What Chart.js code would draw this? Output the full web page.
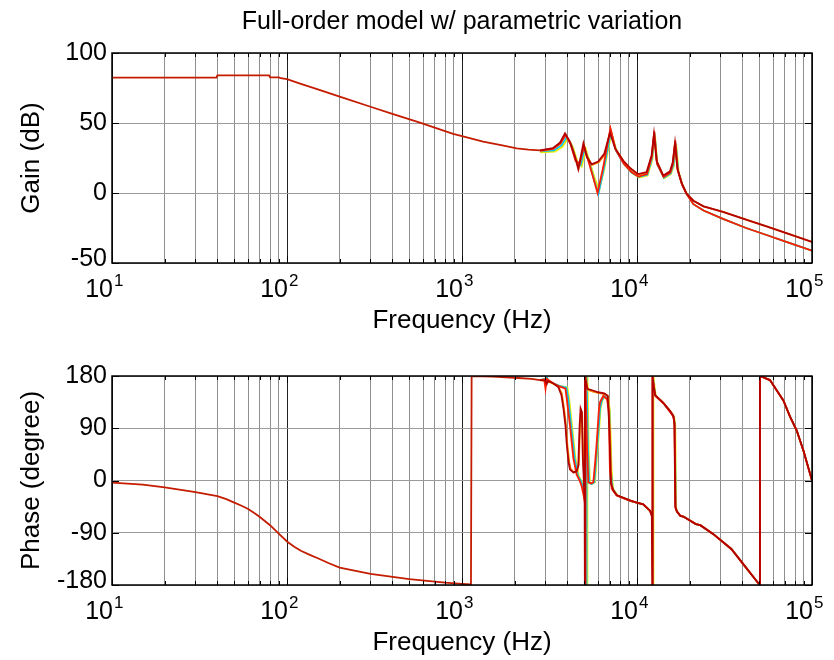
<!DOCTYPE html>
<html>
<head>
<meta charset="utf-8">
<script src="https://cdn.jsdelivr.net/npm/chart.js@4.4.1/dist/chart.umd.min.js"></script>
<style>
  html, body { margin: 0; padding: 0; background: #fff; }
  #wrap { position: relative; width: 834px; height: 660px; }
  canvas { position: absolute; left: 0; }
  #gain { top: 0; }
  #phase { top: 345px; }
</style>
</head>
<body>
<div id="wrap">
  <canvas id="gain" width="834" height="345"></canvas>
  <canvas id="phase" width="834" height="315"></canvas>
</div>
<script>
// ---- axis ticks ----
const decades = [10, 100, 1000, 10000, 100000];
const gainTicks = [-50, 0, 50, 100];
const phaseTicks = [-180, -90, 0, 90, 180];

// ---- gain (dB), common low-frequency part ----
const gainLowFreq = [10, 39.5, 40, 79, 80, 90, 92, 100, 120, 150, 200, 300, 400, 575, 890, 1000, 1320, 1700, 2055, 2400, 2790];
const gainLow = [82.4, 82.4, 84.0, 84.0, 82.6, 82.6, 82.0, 81.3, 78.0, 74.0, 68.8, 61.6, 56.5, 50.2, 42.2, 40.7, 36.7, 34.0, 31.9, 31.0, 30.4];

// ---- gain, resonance region per parameter set ----
const gainFreqDarkRed = [2790, 3300, 3630, 3880, 4140, 4420, 4620, 4940, 5160, 5500, 6000, 6500, 7010, 7490, 8350, 9200, 10150, 11350, 12120, 12500, 12940, 14130, 15440, 16000, 16480, 17000, 18000, 19200];
const gainDarkRed = [30.4, 32.0, 36.0, 42.6, 36.5, 26.0, 17.0, 35.5, 26.0, 20.5, 22.5, 28.0, 43.0, 32.0, 23.0, 17.5, 13.5, 15.0, 27.0, 42.0, 23.0, 12.5, 15.5, 22.0, 35.5, 17.6, 7.0, -0.5];

const gainFreqOrange = [2790, 3320, 3660, 3910, 4180, 4460, 4660, 4970, 5200, 5550, 6050, 6550, 7060, 7540, 8400, 9250, 10200, 11400, 12170, 12550, 12990, 14180, 15500, 16050, 16520, 17050, 18050, 19200];
const gainOrange = [30.0, 31.5, 35.5, 41.5, 35.5, 25.0, 18.5, 34.5, 25.0, 20.0, 22.0, 27.5, 45.0, 31.5, 22.5, 17.0, 13.0, 14.5, 26.5, 43.0, 22.5, 12.0, 15.0, 21.5, 36.5, 17.0, 6.5, -0.6];

const gainFreqRed = [2790, 3300, 3650, 3900, 4170, 4450, 4700, 4980, 5300, 5650, 5950, 6400, 7050, 7550, 8400, 9300, 10200, 11400, 12150, 12550, 13000, 14200, 15500, 16050, 16550, 17100, 18100, 19200];
const gainRed = [30.2, 31.5, 35.5, 41.5, 35.0, 23.0, 21.0, 33.5, 22.0, 10.0, 0.0, 18.0, 46.2, 31.0, 21.0, 15.0, 11.7, 13.5, 26.0, 44.0, 21.0, 11.5, 14.5, 21.0, 37.4, 16.0, 6.0, -0.7];

const gainFreqCyan = [2790, 3350, 3700, 3960, 4230, 4500, 4760, 5030, 5350, 5700, 6020, 6450, 7100, 7600, 8450, 9350, 10250, 11450, 12200, 12600, 13050, 14250, 15550, 16150, 16650, 17200, 18200, 19300];
const gainCyan = [29.8, 30.5, 34.0, 40.0, 34.0, 23.0, 20.0, 32.0, 21.0, 9.0, -0.5, 17.0, 44.0, 30.0, 20.5, 14.5, 11.5, 13.0, 25.0, 43.0, 20.5, 11.0, 14.0, 20.0, 35.5, 15.5, 5.5, -1.0];

const gainFreqYellow = [2790, 3400, 3750, 4020, 4300, 4580, 4830, 5100, 5400, 5760, 6080, 6500, 7150, 7650, 8500, 9400, 10300, 11500, 12250, 12650, 13100, 14300, 15600, 16250, 16750, 17300, 18300, 19400];
const gainYellow = [29.0, 29.5, 33.0, 39.0, 33.0, 22.0, 19.0, 31.5, 21.0, 10.0, 2.0, 17.0, 43.0, 30.0, 20.0, 14.0, 11.0, 12.5, 24.0, 42.0, 20.0, 10.5, 13.5, 19.5, 35.0, 15.0, 5.0, -1.2];

// ---- gain, high-frequency roll-off (two branches) ----
const tailFreq = [21000, 24000, 31000, 42000, 55000, 70000, 100000];
const gainTailUpper = [-5.5, -9.5, -13.5, -19.0, -23.9, -28.3, -35.0];
const gainTailLower = [-8.0, -12.5, -18.5, -25.0, -30.0, -34.5, -41.2];

// ---- phase (degree), common low-frequency part ----
const phaseLowFreq = [10, 15, 20, 30, 40, 45, 50, 55, 60, 65, 70, 80, 90, 100, 110, 120, 135, 150, 175, 200, 300, 500, 800, 1000, 1120, 1125, 1135, 1500, 2000, 2500, 2790];
const phaseLow = [-3.5, -7, -12, -20, -27, -32, -38, -43.5, -49, -56, -63, -77, -92, -105, -114, -121, -128, -134, -143, -150, -161, -170, -176, -178, -179, -180, 180, 179, 177, 175, 173];

// ---- phase, resonance region per parameter set ----
const phaseFreqDarkRed = [2790, 3000, 3050, 3100, 3300, 3550, 3700, 3800, 3900, 3970, 4060, 4140, 4330, 4520, 4620, 4700, 4760, 4840, 4900, 4960, 5020, 5035, 5045, 5200, 5600, 6000, 6500, 6800, 6950, 7100, 7300, 7650, 9120, 9960, 10860, 11870, 12150, 12240, 12260, 12450, 12700, 14100, 15450, 16100, 16350, 16550, 16900];
const phaseDarkRed = [173, 172, 166, 171, 168, 161, 147, 124, 95, 62, 32, 19, 14, 16, 26, 95, 124, 118, 40, 5, -40, -180, 180, 158, 155, 152, 150, 146, 90, -5, -16, -25, -34, -38, -41, -52, -60, -180, 180, 162, 147, 134, 120, 112, 100, -45, -53];

const phaseFreqOrange = [2790, 3000, 3100, 3300, 3550, 3720, 3830, 3930, 4000, 4100, 4180, 4360, 4550, 4650, 4730, 4790, 4860, 4930, 4990, 5050, 5065, 5075, 5250, 5600, 6000, 6500, 6850, 7000, 7150, 7350, 7700, 9120, 9960, 10860, 11900, 12200, 12290, 12310, 12500, 12750, 14150, 15500, 16150, 16400, 16600, 16900];
const phaseOrange = [173, 172, 170, 168, 162, 150, 124, 95, 62, 32, 20, 14, 16, 28, 95, 120, 116, 40, 5, -40, -180, 180, 156, 153, 151, 149, 145, 90, -8, -18, -26, -34, -38, -41, -53, -62, -180, 180, 160, 146, 133, 119, 111, 98, -46, -53];

const phaseFreqRed = [2790, 2950, 3000, 3050, 3300, 3600, 3900, 3970, 4140, 4330, 4520, 4700, 4830, 4950, 5045, 5060, 5080, 5180, 5270, 5450, 5630, 5760, 5890, 6050, 6150, 6420, 6740, 6900, 7000, 7170, 7650, 9120, 9960, 10860, 11870, 12200, 12260, 12280, 12450, 12700, 14100, 15450, 16150, 16400, 16600, 16900];
const phaseRed = [173, 174, 158, 175, 168, 162, 158, 140, 95, 38, 10, 0, -10, -25, -38, -180, 180, 60, -3, -5, -3, 30, 66, 120, 135, 146, 140, 120, 20, -14, -26, -35, -38, -41, -52, -62, -180, 180, 164, 146, 134, 118, 110, 95, -48, -54];

const phaseFreqCyan = [2790, 3000, 3050, 3100, 3300, 3600, 3950, 4050, 4200, 4400, 4600, 4800, 4900, 5050, 5120, 5140, 5160, 5250, 5330, 5500, 5700, 5850, 6000, 6150, 6300, 6500, 6800, 6950, 7080, 7250, 7700, 9120, 9960, 10860, 11900, 12250, 12300, 12330, 12500, 12750, 14150, 15500, 16200, 16450, 16650, 16950];
const phaseCyan = [173, 175, 179, 172, 168, 163, 160, 140, 95, 38, 8, -2, -12, -25, -40, -180, 180, 50, -4, -6, -3, 40, 80, 125, 138, 145, 142, 120, 20, -14, -26, -35, -38, -41, -53, -64, -180, 180, 162, 146, 133, 118, 110, 95, -48, -54];

const phaseFreqYellow = [2790, 3000, 3050, 3100, 3300, 3600, 4000, 4100, 4250, 4450, 4650, 4850, 4950, 5100, 5180, 5200, 5220, 5300, 5380, 5550, 5750, 5900, 6050, 6200, 6350, 6550, 6850, 7000, 7150, 7300, 7750, 9120, 9960, 10860, 11950, 12350, 12400, 12430, 12600, 12800, 14200, 15600, 16300, 16550, 16750, 17000];
const phaseYellow = [172, 176, 180, 171, 167, 163, 160, 140, 95, 38, 8, -3, -12, -26, -42, -180, 180, 50, -4, -6, -3, 40, 80, 125, 138, 145, 142, 120, 20, -14, -26, -35, -38, -41, -53, -64, -180, 180, 162, 146, 133, 118, 110, 95, -48, -54];

// ---- phase, common high-frequency part ----
const phaseTailFreq = [17700, 18400, 21700, 23000, 27200, 34600, 40480, 46500, 50300, 50400, 57500, 62000, 68600, 74900, 81800, 89200, 100000];
const phaseTail = [-61, -62, -75, -77, -92, -118, -144, -167, -180, 180, 173, 158, 138, 110, 86, 52, 0];

const COLORS = {
  common: '#c41c00',
  darkred: '#b00000',
  red: '#ff1e00',
  orange: '#ff8a00',
  cyan: '#00c0f8',
  yellow: '#ecec00'
};

function pts(freqs, vals) {
  return freqs.map((f, i) => ({ x: f, y: vals[i] }));
}

function line(label, color, data) {
  return { label, data, borderColor: color, backgroundColor: color, borderWidth: 1.8, pointRadius: 0, tension: 0, fill: false };
}

// grid at 1..9 x each decade
const xGrid = [];
decades.slice(0, 4).forEach(d => { for (let m = 1; m < 10; m++) xGrid.push(d * m); });
xGrid.push(100000);
const isDecade = v => decades.includes(v);

const FONT = '"Liberation Sans", Arial, Helvetica, sans-serif';

// MATLAB-like frame: box, inward ticks, 10^n labels, titles
const matlabAxes = {
  id: 'matlab',
  afterDraw(chart, args, opts) {
    const { ctx, chartArea: a, scales } = chart;
    const xs = scales.x, ys = scales.y;
    ctx.save();
    ctx.strokeStyle = '#000';
    ctx.lineWidth = 1;
    ctx.beginPath();
    xGrid.forEach(v => {
      const px = Math.round(xs.getPixelForValue(v)) + 0.5;
      const len = isDecade(v) ? 7 : 4;
      ctx.moveTo(px, a.top); ctx.lineTo(px, a.top + len);
      ctx.moveTo(px, a.bottom); ctx.lineTo(px, a.bottom - len);
    });
    opts.yTicks.forEach(v => {
      const py = Math.round(ys.getPixelForValue(v)) + 0.5;
      ctx.moveTo(a.left, py); ctx.lineTo(a.left + 7, py);
      ctx.moveTo(a.right, py); ctx.lineTo(a.right - 7, py);
    });
    ctx.stroke();
    ctx.lineWidth = 1.5;
    ctx.strokeRect(a.left, a.top, a.right - a.left, a.bottom - a.top);

    ctx.fillStyle = '#000';
    // x tick labels 10^n
    decades.forEach((v, i) => {
      const px = xs.getPixelForValue(v);
      const base = a.bottom + 34;
      ctx.font = '25px ' + FONT;
      ctx.textAlign = 'right';
      ctx.textBaseline = 'alphabetic';
      ctx.fillText('10', px + 1, base);
      ctx.font = '17px ' + FONT;
      ctx.textAlign = 'left';
      ctx.fillText(String(i + 1), px + 2, base - 11);
    });
    // y tick labels
    ctx.font = '25px ' + FONT;
    ctx.textAlign = 'right';
    ctx.textBaseline = 'middle';
    opts.yTicks.forEach((v, i) => {
      let py = ys.getPixelForValue(v);
      if (i === 0) py -= 4;
      ctx.fillText(String(v), a.left - 5, py);
    });
    // axis titles
    ctx.font = '26px ' + FONT;
    ctx.textAlign = 'center';
    ctx.textBaseline = 'middle';
    ctx.fillText('Frequency (Hz)', (a.left + a.right) / 2, a.bottom + 58);
    ctx.save();
    ctx.translate(32, (a.top + a.bottom) / 2);
    ctx.rotate(-Math.PI / 2);
    ctx.fillText(opts.yTitle, 0, 0);
    ctx.restore();
    if (opts.title) {
      ctx.font = '25px ' + FONT;
      ctx.fillText(opts.title, (a.left + a.right) / 2, a.top - 31);
    }
    ctx.restore();
  }
};

function makeChart(id, datasets, yMin, yMax, yTicks, yTitle, title, pad) {
  return new Chart(document.getElementById(id), {
    type: 'line',
    data: { datasets },
    options: {
      responsive: false,
      animation: false,
      layout: { padding: pad },
      plugins: {
        legend: { display: false },
        tooltip: { enabled: false },
        matlab: { yTicks, yTitle, title }
      },
      scales: {
        x: {
          type: 'logarithmic', min: 10, max: 100000,
          afterBuildTicks: s => { s.ticks = xGrid.map(v => ({ value: v })); },
          afterFit: s => { s.height = 0; },
          ticks: { display: false },
          border: { display: false },
          grid: { drawTicks: false, lineWidth: 1, color: c => (c.tick && isDecade(c.tick.value)) ? '#202020' : '#8f8f8f' }
        },
        y: {
          type: 'linear', min: yMin, max: yMax,
          afterBuildTicks: s => { s.ticks = yTicks.map(v => ({ value: v })); },
          afterFit: s => { s.width = 0; },
          ticks: { display: false },
          border: { display: false },
          grid: { drawTicks: false, lineWidth: 1, color: '#9a9a9a' }
        }
      }
    },
    plugins: [matlabAxes]
  });
}

// first dataset is drawn on top
makeChart('gain', [
  line('common', COLORS.common, pts(gainLowFreq, gainLow)),
  line('p5', COLORS.darkred, pts(gainFreqDarkRed.concat(tailFreq), gainDarkRed.concat(gainTailUpper))),
  line('p4', COLORS.red, pts(gainFreqRed.concat(tailFreq), gainRed.concat(gainTailLower))),
  line('p3', COLORS.orange, pts(gainFreqOrange.concat(tailFreq), gainOrange.concat(gainTailUpper))),
  line('p2', COLORS.cyan, pts(gainFreqCyan.concat(tailFreq), gainCyan.concat(gainTailLower))),
  line('p1', COLORS.yellow, pts(gainFreqYellow.concat(tailFreq), gainYellow.concat(gainTailLower)))
], -50, 100, gainTicks, 'Gain (dB)', 'Full-order model w/ parametric variation',
  { left: 112, right: 22, top: 53, bottom: 82 });

makeChart('phase', [
  line('common', COLORS.common, pts(phaseLowFreq, phaseLow)),
  line('p5', COLORS.darkred, pts(phaseFreqDarkRed.concat(phaseTailFreq), phaseDarkRed.concat(phaseTail))),
  line('p4', COLORS.red, pts(phaseFreqRed.concat(phaseTailFreq), phaseRed.concat(phaseTail))),
  line('p3', COLORS.orange, pts(phaseFreqOrange.concat(phaseTailFreq), phaseOrange.concat(phaseTail))),
  line('p2', COLORS.cyan, pts(phaseFreqCyan.concat(phaseTailFreq), phaseCyan.concat(phaseTail))),
  line('p1', COLORS.yellow, pts(phaseFreqYellow.concat(phaseTailFreq), phaseYellow.concat(phaseTail)))
], -180, 180, phaseTicks, 'Phase (degree)', null,
  { left: 112, right: 22, top: 31, bottom: 75 });
</script>
</body>
</html>
